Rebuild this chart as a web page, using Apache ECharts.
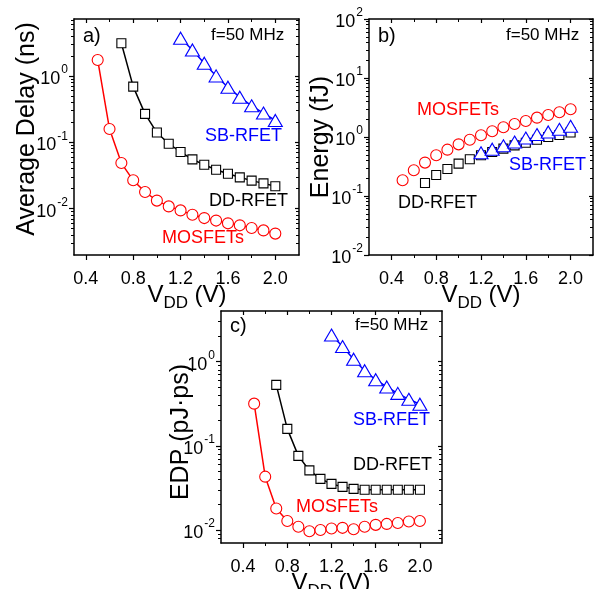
<!DOCTYPE html>
<html>
<head>
    <meta charset="utf-8">
    <title>Delay / Energy / EDP vs VDD</title>
    <script src="https://cdn.jsdelivr.net/npm/echarts@6/dist/echarts.min.js"></script>
    <style>
        html, body { margin: 0; padding: 0; background: #fff; }
        #main { width: 598px; height: 589px; }
    </style>
</head>
<body>
<div id="main"></div>
<script type="text/javascript">
// supply voltages (V)
var vddMos = [0.5, 0.6, 0.7, 0.8, 0.9, 1.0, 1.1, 1.2, 1.3, 1.4, 1.5, 1.6, 1.7, 1.8, 1.9, 2.0];
var vddDD  = [0.7, 0.8, 0.9, 1.0, 1.1, 1.2, 1.3, 1.4, 1.5, 1.6, 1.7, 1.8, 1.9, 2.0];
var vddSB  = [1.2, 1.3, 1.4, 1.5, 1.6, 1.7, 1.8, 1.9, 2.0];

// a) average delay (ns)
var delayMos = [1.74, 0.158, 0.0486, 0.0267, 0.0178, 0.0132, 0.0108, 0.0094, 0.0081, 0.0072, 0.0066, 0.0060, 0.0056, 0.0051, 0.0047, 0.0042];
var delayDD  = [3.1, 0.69, 0.268, 0.14, 0.095, 0.0713, 0.0552, 0.0459, 0.0386, 0.0336, 0.0296, 0.0264, 0.024, 0.0217];
var delaySB  = [3.7, 2.46, 1.55, 1.0, 0.676, 0.478, 0.354, 0.275, 0.213];

// b) energy (fJ)
var energyMos = [0.185, 0.273, 0.368, 0.49, 0.61, 0.75, 0.90, 1.07, 1.25, 1.46, 1.66, 1.87, 2.13, 2.36, 2.62, 2.95];
var energyDD  = [0.166, 0.227, 0.287, 0.354, 0.419, 0.49, 0.557, 0.636, 0.72, 0.80, 0.90, 1.0, 1.08, 1.19];
var energySB  = [0.54, 0.62, 0.71, 0.82, 0.96, 1.1, 1.22, 1.35, 1.52];

// c) EDP (pJ·ps)
var edpMos = [0.317, 0.043, 0.018, 0.0128, 0.0109, 0.00966, 0.0100, 0.0104, 0.0106, 0.0102, 0.0109, 0.0115, 0.0118, 0.0121, 0.0126, 0.0128];
var edpDD  = [0.53, 0.159, 0.076, 0.051, 0.0405, 0.0353, 0.0325, 0.0308, 0.030, 0.030, 0.030, 0.030, 0.030, 0.030];
var edpSB  = [2.07, 1.51, 1.07, 0.78, 0.61, 0.50, 0.42, 0.357, 0.312];

// tick labels
var xTicks = [0.4, 0.8, 1.2, 1.6, 2.0];
var xMinorTicks = [0.6, 1.0, 1.4, 1.8];
var yTicksA = [0.01, 0.1, 1];
var yTicksB = [0.01, 0.1, 1, 10, 100];
var yTicksC = [0.01, 0.1, 1];

var FONT = 'Liberation Sans, Arial, sans-serif';
var RED = '#ff0000', BLACK = '#000000', BLUE = '#0000ff';

function pairs(xs, ys) {
    var out = [];
    for (var i = 0; i < xs.length; i++) out.push([xs[i], ys[i]]);
    return out;
}

// 2..9 minor ticks of every decade inside [lo, hi]
function minorLogTicks(lo, hi) {
    var out = [];
    for (var e = -4; e <= 3; e++) {
        for (var m = 2; m <= 9; m++) {
            var v = m * Math.pow(10, e);
            if (v > lo && v < hi) out.push(v);
        }
    }
    return out;
}

function powLabel(v) {
    var e = Math.round(Math.log10(v));
    return '{b|10}{s|' + e + '}';
}

var powRich = {
    b: { fontSize: 18, fontFamily: FONT, color: '#000', lineHeight: 24, verticalAlign: 'bottom' },
    s: { fontSize: 12, fontFamily: FONT, color: '#000', lineHeight: 12, verticalAlign: 'top', padding: [0, 0, 0, 1] }
};

var xs = [], ys = [], grids = [], series = [];
var AXIS_LINE = { lineStyle: { color: '#000', width: 1.5 } };
var MAJOR = { color: '#000', width: 1.2 };
var MINOR = { color: '#000', width: 1 };

function addPanel(p) {
    var gi = grids.length;
    grids.push({ left: p.left, top: p.top, width: p.width, height: p.height, outerBoundsMode: 'none', containLabel: false });

    var xBase = { type: 'value', gridIndex: gi, min: p.xmin, max: p.xmax, splitLine: { show: false } };
    var firstX = xs.length;
    xs.push(Object.assign({}, xBase, {
        position: 'bottom', axisLine: AXIS_LINE,
        axisTick: { customValues: xTicks, length: 5, lineStyle: MAJOR },
        axisLabel: {
            customValues: xTicks, margin: 15, fontSize: 18, fontFamily: FONT, color: '#000',
            formatter: function (v) { return v.toFixed(1); }
        }
    }));
    xs.push(Object.assign({}, xBase, {
        position: 'bottom', axisLine: { show: false },
        axisTick: { customValues: xMinorTicks, length: 3, lineStyle: MINOR },
        axisLabel: { show: false }
    }));
    xs.push(Object.assign({}, xBase, {
        position: 'top', axisLine: AXIS_LINE,
        axisTick: { inside: true, customValues: xTicks, length: 4, lineStyle: MAJOR },
        axisLabel: { show: false }
    }));
    xs.push(Object.assign({}, xBase, {
        position: 'top', axisLine: { show: false },
        axisTick: { inside: true, customValues: xMinorTicks, length: 3, lineStyle: MINOR },
        axisLabel: { show: false }
    }));

    var yBase = { type: 'log', logBase: 10, gridIndex: gi, min: p.ymin, max: p.ymax, splitLine: { show: false } };
    var minors = minorLogTicks(p.ymin, p.ymax);
    var firstY = ys.length;
    ys.push(Object.assign({}, yBase, {
        position: 'left', axisLine: AXIS_LINE,
        axisTick: { customValues: p.yTicks, length: 5, lineStyle: MAJOR },
        axisLabel: { customValues: p.yTicks, margin: 6, formatter: powLabel, rich: powRich }
    }));
    ys.push(Object.assign({}, yBase, {
        position: 'left', axisLine: { show: false },
        axisTick: { customValues: minors, length: 3, lineStyle: MINOR },
        axisLabel: { show: false }
    }));
    ys.push(Object.assign({}, yBase, {
        position: 'right', axisLine: AXIS_LINE,
        axisTick: { inside: true, customValues: p.yTicks, length: 4, lineStyle: MAJOR },
        axisLabel: { show: false }
    }));
    ys.push(Object.assign({}, yBase, {
        position: 'right', axisLine: { show: false },
        axisTick: { inside: true, customValues: minors, length: 3, lineStyle: MINOR },
        axisLabel: { show: false }
    }));

    p.lines.forEach(function (s) {
        series.push({
            type: 'line', xAxisIndex: firstX, yAxisIndex: firstY,
            data: pairs(s.x, s.y),
            symbol: s.symbol, symbolSize: s.size, showSymbol: true,
            lineStyle: { color: s.color, width: p.joined ? 1.5 : 0, opacity: p.joined ? 1 : 0 },
            itemStyle: { color: '#fff', borderColor: s.color, borderWidth: 1.1 },
            z: s.z || 2,
            silent: true, animation: false
        });
    });
}

var circle = { symbol: 'circle', size: 11 };
var square = { symbol: 'rect', size: 9 };
var tri = { symbol: 'triangle', size: [14, 12] };

addPanel({
    left: 74, top: 19, width: 225, height: 236,
    xmin: 0.3, xmax: 2.2, ymin: 0.002, ymax: 7.2, yTicks: yTicksA, joined: true,
    lines: [
        { x: vddMos, y: delayMos, color: RED, symbol: circle.symbol, size: circle.size },
        { x: vddDD, y: delayDD, color: BLACK, symbol: square.symbol, size: square.size },
        { x: vddSB, y: delaySB, color: BLUE, symbol: tri.symbol, size: tri.size }
    ]
});
addPanel({
    left: 369, top: 19, width: 224, height: 236,
    xmin: 0.2, xmax: 2.2, ymin: 0.01, ymax: 100, yTicks: yTicksB, joined: false,
    lines: [
        { x: vddMos, y: energyMos, color: RED, symbol: circle.symbol, size: circle.size },
        { x: vddDD, y: energyDD, color: BLACK, symbol: square.symbol, size: square.size },
        { x: vddSB, y: energySB, color: BLUE, symbol: tri.symbol, size: tri.size, z: 3 }
    ]
});
addPanel({
    left: 221, top: 311, width: 221, height: 232,
    xmin: 0.2, xmax: 2.2, ymin: 0.007, ymax: 4, yTicks: yTicksC, joined: true,
    lines: [
        { x: vddMos, y: edpMos, color: RED, symbol: circle.symbol, size: circle.size },
        { x: vddDD, y: edpDD, color: BLACK, symbol: square.symbol, size: square.size },
        { x: vddSB, y: edpSB, color: BLUE, symbol: tri.symbol, size: tri.size }
    ]
});

// plain label, y is the vertical middle of the text
function txt(x, y, s, color, size) {
    return {
        type: 'text', x: x, y: y, silent: true, z: 10,
        style: { text: s, fill: color, font: size + 'px ' + FONT, align: 'left', verticalAlign: 'middle' }
    };
}
function yName(x, y, s) {
    return {
        type: 'text', x: x, y: y, rotation: Math.PI / 2, silent: true,
        style: { text: s, fill: '#000', font: '25px ' + FONT, align: 'center', verticalAlign: 'middle' }
    };
}

// "V_DD (V)" built from three pieces; base is the baseline of the big V
var measureCtx = document.createElement('canvas').getContext('2d');
function textWidth(s, size) {
    measureCtx.font = size + 'px ' + FONT;
    return measureCtx.measureText(s).width;
}
function xName(cx, base) {
    var big = 24, sub = 17;
    var w1 = textWidth('V', big), w2 = textWidth('DD', sub), w3 = textWidth(' (V)', big);
    var x0 = cx - (w1 + w2 + w3) / 2;
    function piece(x, y, s, size) {
        return {
            type: 'text', x: x, y: y, silent: true,
            style: { text: s, fill: '#000', font: size + 'px ' + FONT, align: 'left', verticalAlign: 'bottom' }
        };
    }
    return [
        piece(x0, base + 0.21 * big, 'V', big),
        piece(x0 + w1, base + 6 + 0.21 * sub, 'DD', sub),
        piece(x0 + w1 + w2, base + 0.21 * big, ' (V)', big)
    ];
}

var graphics = [
    yName(27, 129, 'Average Delay (ns)'),
    yName(321, 137, 'Energy (fJ)'),
    yName(181, 432, 'EDP (pJ\u00b7ps)'),

    txt(83, 36, 'a)', BLACK, 20),
    txt(211, 35, 'f=50 MHz', BLACK, 17),
    txt(205, 136, 'SB-RFET', BLUE, 18),
    txt(209, 201, 'DD-RFET', BLACK, 18),
    txt(162, 238, 'MOSFETs', RED, 18),

    txt(378, 36, 'b)', BLACK, 20),
    txt(506, 35, 'f=50 MHz', BLACK, 17),
    txt(417, 110, 'MOSFETs', RED, 18),
    txt(509, 165, 'SB-RFET', BLUE, 18),
    txt(398, 203, 'DD-RFET', BLACK, 18),

    txt(230, 326, 'c)', BLACK, 20),
    txt(355, 325, 'f=50 MHz', BLACK, 17),
    txt(353, 420, 'SB-RFET', BLUE, 18),
    txt(353, 465, 'DD-RFET', BLACK, 18),
    txt(296, 507, 'MOSFETs', RED, 18)
].concat(xName(187, 302), xName(481, 302), xName(331, 590));

var chart = echarts.init(document.getElementById('main'), null, { renderer: 'canvas' });
chart.setOption({
    backgroundColor: '#fff',
    animation: false,
    grid: grids,
    xAxis: xs,
    yAxis: ys,
    series: series,
    graphic: graphics
});
</script>
</body>
</html>
